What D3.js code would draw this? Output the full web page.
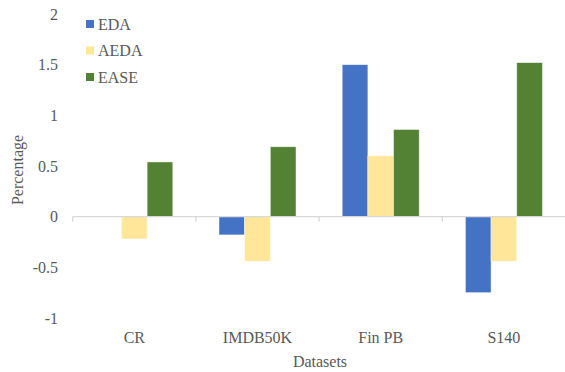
<!DOCTYPE html>
<html>
<head>
<meta charset="utf-8">
<script src="https://cdn.jsdelivr.net/npm/d3@7"></script>
<style>
  html, body { margin: 0; padding: 0; background: #fff; }
  svg { display: block; font-family: "Liberation Serif", "Times New Roman", serif; }
</style>
</head>
<body>
<svg id="chart" width="565" height="372"></svg>
<script>
// Relative change (%) per dataset for each augmentation method
const categories = ["CR", "IMDB50K", "Fin PB", "S140"];
const seriesNames = ["EDA", "AEDA", "EASE"];
const edaValues  = [0, -0.18, 1.5, -0.75];
const aedaValues = [-0.22, -0.44, 0.6, -0.44];
const easeValues = [0.54, 0.69, 0.86, 1.52];
const yTicks = [-1, -0.5, 0, 0.5, 1, 1.5, 2];
const colors = ["#4472C4", "#FFE699", "#548235"];

const series = [edaValues, aedaValues, easeValues];

const svg = d3.select("#chart");
const plotLeft = 72.7, plotRight = 565, plotTop = 14, plotBottom = 318;

const y = d3.scaleLinear().domain([-1, 2]).range([plotBottom, plotTop]);
const x = d3.scaleBand().domain(categories).range([plotLeft, plotRight + 0.5]).paddingInner(0).paddingOuter(0);
const inner = d3.scaleBand().domain(seriesNames).range([0, x.bandwidth()]).paddingInner(0).paddingOuter(0.9);

// Y axis tick labels (no line), plain hyphen for negatives
svg.append("g").selectAll("text").data(yTicks).join("text")
  .attr("x", 58)
  .attr("y", d => y(d))
  .attr("dy", "0.35em")
  .attr("text-anchor", "end")
  .attr("font-size", 16)
  .attr("fill", "#595959")
  .text(d => String(d));

// Bars
const groups = svg.append("g").selectAll("g").data(categories).join("g")
  .attr("transform", d => `translate(${x(d)},0)`);

groups.selectAll("rect")
  .data((c, i) => seriesNames.map((s, j) => ({ s, j, v: series[j][i] })))
  .join("rect")
  .attr("x", d => inner(d.s))
  .attr("width", inner.bandwidth())
  .attr("y", d => y(Math.max(0, d.v)))
  .attr("height", d => Math.abs(y(d.v) - y(0)))
  .attr("fill", d => colors[d.j])
  .attr("stroke", "#ffffff")
  .attr("stroke-opacity", 0.6)
  .attr("stroke-width", 0.75);

// Category axis line at zero, with ticks on category boundaries
const axisG = svg.append("g").attr("transform", `translate(0,${y(0)})`);
axisG.append("line")
  .attr("x1", plotLeft).attr("x2", plotRight)
  .attr("y1", 0).attr("y2", 0)
  .attr("stroke", "#d9d9d9").attr("stroke-width", 1.3);
const bounds = categories.map(c => x(c));
axisG.selectAll("line.b").data(bounds).join("line")
  .attr("class", "b")
  .attr("x1", d => d).attr("x2", d => d)
  .attr("y1", 0).attr("y2", 5)
  .attr("stroke", "#d9d9d9").attr("stroke-width", 1.3);

// Category labels
svg.append("g").selectAll("text").data(categories).join("text")
  .attr("x", d => x(d) + x.bandwidth() / 2)
  .attr("y", 343)
  .attr("text-anchor", "middle")
  .attr("font-size", 16)
  .attr("fill", "#595959")
  .text(d => d);

// Axis titles
svg.append("text")
  .attr("x", 320).attr("y", 367)
  .attr("text-anchor", "middle")
  .attr("font-size", 16)
  .attr("fill", "#595959")
  .text("Datasets");

svg.append("text")
  .attr("transform", `translate(23,170) rotate(-90)`)
  .attr("text-anchor", "middle")
  .attr("font-size", 16)
  .attr("fill", "#595959")
  .text("Percentage");

// Legend
const legend = svg.append("g").selectAll("g").data(seriesNames).join("g")
  .attr("transform", (d, i) => `translate(86,${24 + i * 26.5})`);
legend.append("rect")
  .attr("x", 0).attr("y", -4).attr("width", 8).attr("height", 8)
  .attr("fill", (d, i) => colors[i]);
legend.append("text")
  .attr("x", 12).attr("y", 0).attr("dy", "0.35em")
  .attr("font-size", 16)
  .attr("fill", "#595959")
  .text(d => d);
</script>
</body>
</html>
